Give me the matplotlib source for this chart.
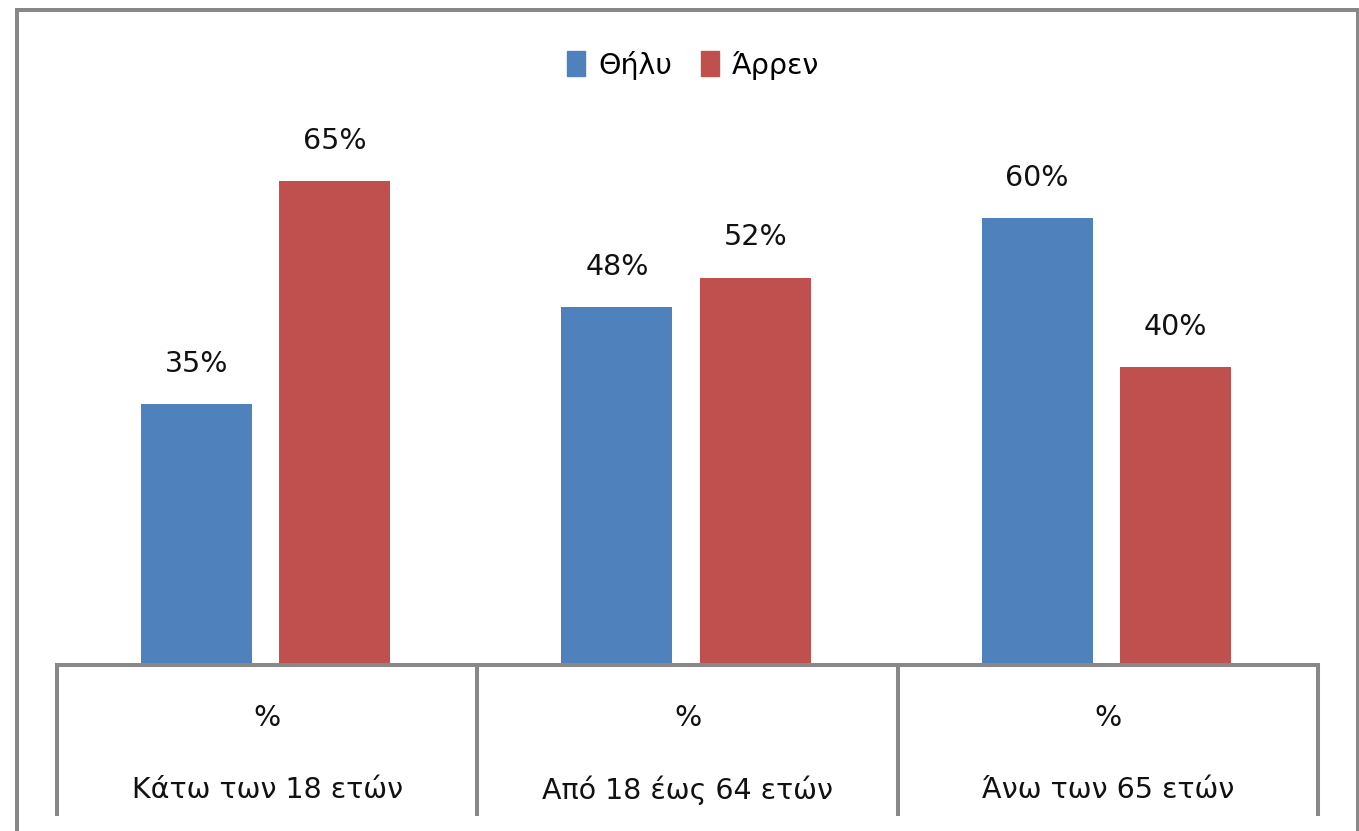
import matplotlib.pyplot as plt
from matplotlib.patches import Rectangle, Patch

categories = ["Κάτω των 18 ετών", "Από 18 έως 64 ετών", "Άνω των 65 ετών"]
unit_label = "%"
female = [35, 48, 60]
male = [65, 52, 40]
series_names = ["Θήλυ", "Άρρεν"]

blue = "#4F81BD"
red = "#C0504D"
grey = "#888888"
txt = "#111111"

plt.rcParams['font.family'] = ['DejaVu Sans']

W, H = 1359, 831
fig = plt.figure(figsize=(W / 100, H / 100), dpi=100)

# plot area in pixels: x 57..1318, baseline at y=665
ax = fig.add_axes([57 / W, (H - 665) / H, (1318 - 57) / W, (665 - 120) / H])
ax.set_xlim(-0.5, 2.5)
ax.set_ylim(0, 545 / 7.45)

xs = range(len(categories))
bw = 0.264
ax.bar([x - 0.168 for x in xs], female, width=bw, color=blue)
ax.bar([x + 0.161 for x in xs], male, width=bw, color=red)

fs = 20.5
for x, v in zip(xs, female):
    ax.text(x - 0.168, v + 5.4, f"{v}%", ha="center", va="center", fontsize=fs, color=txt)
for x, v in zip(xs, male):
    ax.text(x + 0.161, v + 5.4, f"{v}%", ha="center", va="center", fontsize=fs, color=txt)

for s in ["top", "left", "right"]:
    ax.spines[s].set_visible(False)
ax.spines["bottom"].set_color(grey)
ax.spines["bottom"].set_linewidth(2.9)
ax.set_xticks([])
ax.set_yticks([])

# category table lines below the axis
tr = ax.get_xaxis_transform()
ax.vlines([-0.5, 0.5, 1.5, 2.5], -151 / 545, 0, transform=tr, colors=grey,
          linewidth=2.9, clip_on=False)
for x, c in zip(xs, categories):
    ax.text(x, -53 / 545, unit_label, transform=tr, ha="center", va="center",
            fontsize=fs, color=txt)
    ax.text(x, -125 / 545, c, transform=tr, ha="center", va="center",
            fontsize=fs, color=txt)

handles = [Patch(color=blue), Patch(color=red)]
fig.legend(handles, series_names, loc="center", bbox_to_anchor=(0.51, 1 - 65 / H),
           ncol=2, frameon=False, fontsize=fs, handlelength=0.65, handleheight=1.0,
           handletextpad=0.45, columnspacing=1.0)

# outer chart border (bottom edge is cut off)
fig.add_artist(Rectangle((16.5 / W, -0.05), (1357.5 - 16.5) / W, 1.05 - 9.5 / H,
                         transform=fig.transFigure, fill=False, edgecolor=grey,
                         linewidth=2.9))

fig.savefig("out.png", dpi=100)
